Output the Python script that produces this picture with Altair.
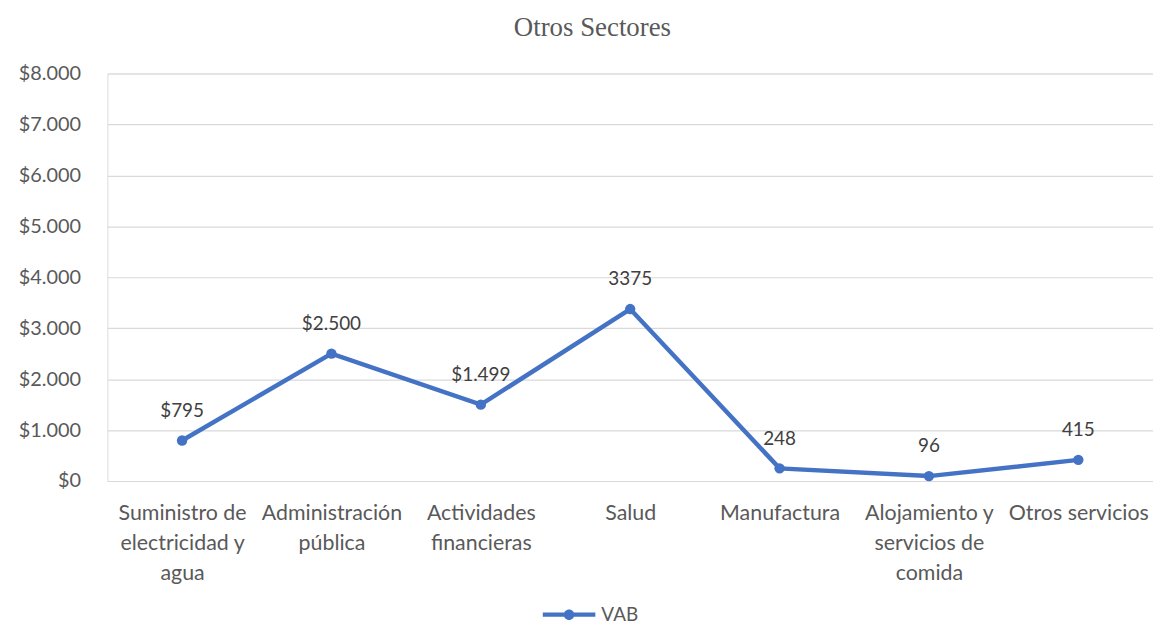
import altair as alt
import pandas as pd

categories = [
    "Suministro de electricidad y agua",
    "Administración pública",
    "Actividades financieras",
    "Salud",
    "Manufactura",
    "Alojamiento y servicios de comida",
    "Otros servicios",
]
label_lines = [
    ["Suministro de", "electricidad y", "agua"],
    ["Administración", "pública"],
    ["Actividades", "financieras"],
    ["Salud"],
    ["Manufactura"],
    ["Alojamiento y", "servicios de", "comida"],
    ["Otros servicios"],
]
values = [795, 2500, 1499, 3375, 248, 96, 415]
data_labels = ["$795", "$2.500", "$1.499", "3375", "248", "96", "415"]
y_ticks = [0, 1000, 2000, 3000, 4000, 5000, 6000, 7000, 8000]
series_name = "VAB"

df = pd.DataFrame({
    "sector": categories,
    "valor": values,
    "etiqueta": data_labels,
    "serie": [series_name] * len(categories),
})

BLUE = "#4472C4"
FONT = "Lato"

# multi-line label expression
expr = "''"
for cat, lines in reversed(list(zip(categories, label_lines))):
    arr = "[" + ",".join("'" + l + "'" for l in lines) + "]"
    expr = f"datum.value == '{cat}' ? {arr} : ({expr})"

x = alt.X(
    "sector:N",
    sort=categories,
    title=None,
    scale=alt.Scale(paddingInner=0, paddingOuter=0),
    axis=alt.Axis(
        labelExpr=expr,
        labelAngle=0,
        labelFont=FONT,
        labelFontSize=21.5,
        labelColor="#595959",
        labelLineHeight=30,
        labelPadding=22,
        labelBaseline="top",
        ticks=False,
        domain=False,
        grid=False,
        labelLimit=220,
        labelOverlap=False,
    ),
)
y = alt.Y(
    "valor:Q",
    title=None,
    scale=alt.Scale(domain=[0, 8000], nice=False),
    axis=alt.Axis(
        values=y_ticks,
        labelExpr="'$' + replace(format(datum.value, ',.0f'), ',', '.')",
        labelFont=FONT,
        labelFontSize=20,
        labelColor="#595959",
        labelPadding=27,
        ticks=False,
        domain=False,
        gridColor="#D9D9D9",
        gridWidth=1.2,
    ),
)

legend_symbol = (
    "M-1,-0.08H1V0.08H-1Z "
    "M0.2,0A0.2,0.2 0 1,1 -0.2,0A0.2,0.2 0 1,1 0.2,0Z"
)

color = alt.Color(
    "serie:N",
    scale=alt.Scale(domain=[series_name], range=[BLUE]),
    legend=alt.Legend(
        title=None,
        orient="none",
        legendX=438,
        legendY=518,
        symbolType=legend_symbol,
        symbolSize=2800,
        symbolFillColor=BLUE,
        symbolStrokeWidth=0,
        labelFont=FONT,
        labelFontSize=19,
        labelColor="#595959",
        labelOffset=6,
    ),
)

base = alt.Chart(df).encode(x=x, y=y)

line = base.mark_line(strokeWidth=4.5, color=BLUE).encode(color=color)
points = base.mark_circle(size=110, opacity=1, color=BLUE)
texts = base.mark_text(
    dy=-30, font=FONT, fontSize=19, color="#404040"
).encode(text="etiqueta:N")

chart = (
    alt.layer(line, points, texts)
    .properties(
        width=1052,
        height=410,
        title=alt.Title(
            "Otros Sectores",
            font="Liberation Serif",
            fontSize=27,
            fontWeight="normal",
            color="#595959",
            anchor="middle",
            offset=22,
            dx=-38,
        ),
        autosize=alt.AutoSizeParams(type="none"),
        padding={"left": 100, "top": 64, "right": 0, "bottom": 142},
    )
    .configure_view(stroke=None)
    .configure(background="white")
)

chart.save("out.html", embed_options={"renderer": "svg", "actions": False})
